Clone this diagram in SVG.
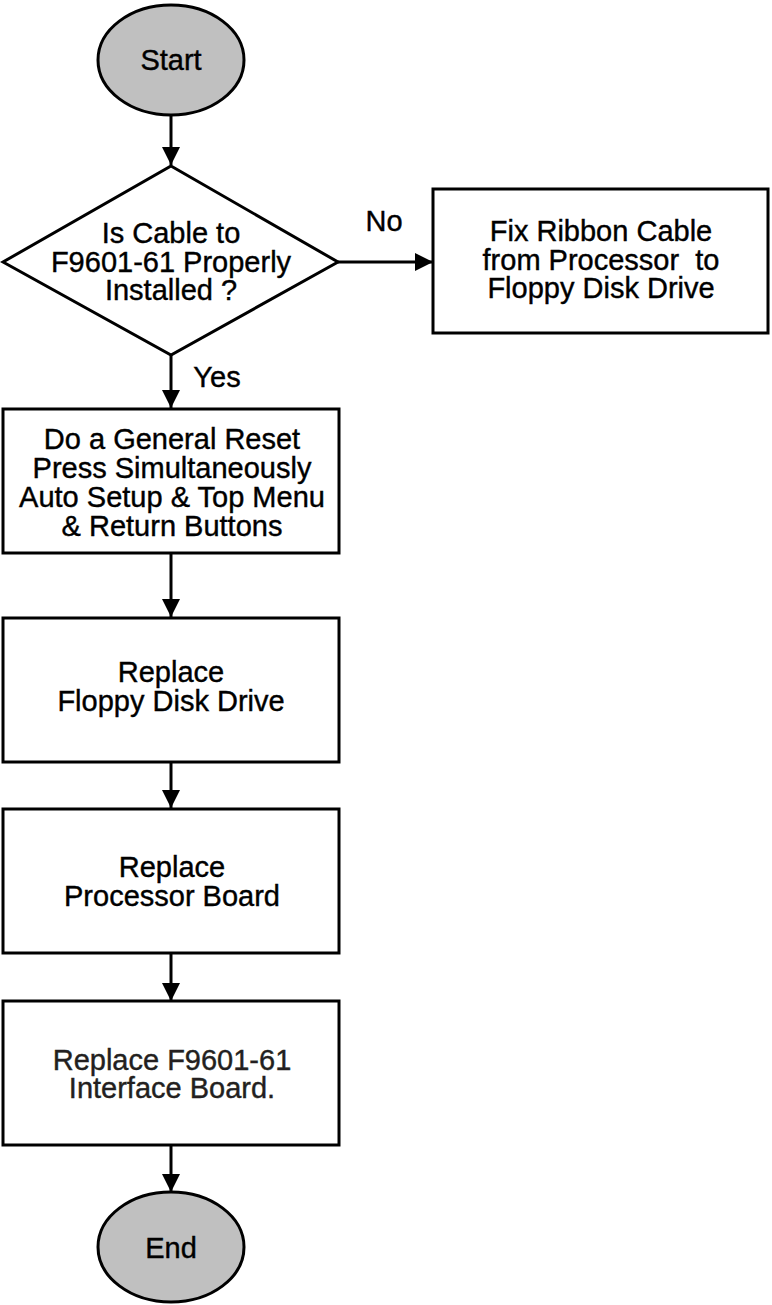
<svg xmlns="http://www.w3.org/2000/svg" width="772" height="1305" viewBox="0 0 772 1305">
<style>
.s{fill:#fff;stroke:#000;stroke-width:3}
.t{fill:#c0c0c0;stroke:#000;stroke-width:3}
text{font-family:"Liberation Sans",Arial,sans-serif;font-size:29px;text-anchor:middle;fill:#000;stroke:#000;stroke-width:0.4;white-space:pre}
.b{fill:#231f20;stroke:#231f20}
.c{stroke:#000;stroke-width:3;fill:none;marker-end:url(#a)}
</style>
<defs>
<marker id="a" markerWidth="6" markerHeight="6" refX="6" refY="3" orient="auto" markerUnits="strokeWidth">
<path d="M0,0 L6,3 L0,6 Z" fill="#000"/>
</marker>
</defs>
<g id="connectors">
<line class="c" x1="171" y1="115" x2="171" y2="165"/>
<line class="c" x1="338" y1="262" x2="433" y2="262"/>
<line class="c" x1="171" y1="355" x2="171" y2="408"/>
<line class="c" x1="171" y1="553" x2="171" y2="617"/>
<line class="c" x1="171" y1="762" x2="171" y2="808"/>
<line class="c" x1="171" y1="953" x2="171" y2="1001"/>
<line class="c" x1="171" y1="1145" x2="171" y2="1192"/>
<text x="384" y="231">No</text>
<text x="217" y="387">Yes</text>
</g>
<g id="start">
<ellipse class="t" cx="171" cy="60" rx="73" ry="55"/>
<text x="171" y="70">Start</text>
</g>
<g id="decision">
<polygon class="s" points="171,166 338,262 171,355 3,262"/>
<text x="171" y="243">Is Cable to</text>
<text x="171" y="272">F9601-61 Properly</text>
<text x="171" y="300">Installed ?</text>
</g>
<g id="fix">
<rect class="s" x="433" y="189" width="335" height="144"/>
<text x="601" y="241">Fix Ribbon Cable</text>
<text x="601" y="270" xml:space="preserve">from Processor  to</text>
<text x="601" y="298">Floppy Disk Drive</text>
</g>
<g id="reset">
<rect class="s" x="3" y="409" width="336" height="144"/>
<text x="172" y="449">Do a General Reset</text>
<text x="172" y="478">Press Simultaneously</text>
<text x="172" y="507">Auto Setup &amp; Top Menu</text>
<text x="172" y="536">&amp; Return Buttons</text>
</g>
<g id="floppy">
<rect class="s" x="3" y="618" width="336" height="144"/>
<text x="171" y="682">Replace</text>
<text x="171" y="711">Floppy Disk Drive</text>
</g>
<g id="processor">
<rect class="s" x="3" y="809" width="336" height="144"/>
<text x="172" y="877">Replace</text>
<text x="172" y="906">Processor Board</text>
</g>
<g id="interface">
<rect class="s" x="3" y="1001" width="336" height="144"/>
<text class="b" x="172" y="1070">Replace F9601-61</text>
<text class="b" x="172" y="1098">Interface Board.</text>
</g>
<g id="end">
<ellipse class="t" cx="171" cy="1247" rx="73" ry="55"/>
<text x="171" y="1258">End</text>
</g>
</svg>
